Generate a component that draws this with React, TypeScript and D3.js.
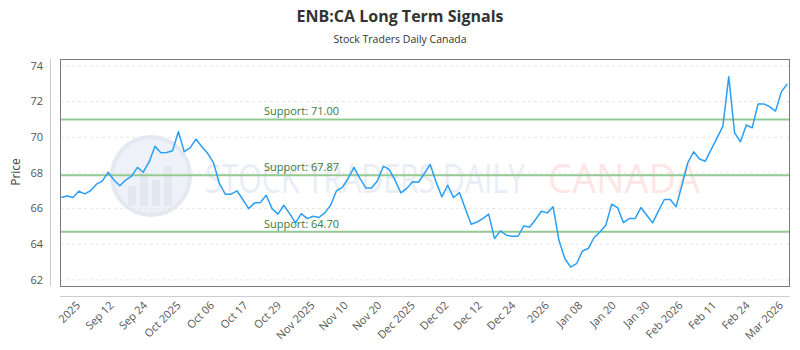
import React, { useRef, useEffect } from "react";
import * as d3 from "d3";

// daily closes
const prices = [
  66.62, 66.71, 66.62, 66.98, 66.83, 67.0, 67.37, 67.54, 68.04, 67.6,
  67.28, 67.6, 67.82, 68.31, 68.04, 68.62, 69.5, 69.13, 69.15, 69.24,
  70.31, 69.19, 69.41, 69.9, 69.47, 69.1, 68.57, 67.41, 66.81, 66.81,
  67.0, 66.51, 66.0, 66.32, 66.34, 66.75, 66.0, 65.69, 66.19, 65.72,
  65.2, 65.72, 65.44, 65.57, 65.5, 65.76, 66.19, 67.0, 67.19, 67.69,
  68.31, 67.69, 67.16, 67.16, 67.56, 68.38, 68.2, 67.6, 66.88, 67.13,
  67.5, 67.48, 67.97, 68.48, 67.5, 66.66, 67.31, 66.62, 66.9, 66.0,
  65.12, 65.25, 65.44, 65.69, 64.32, 64.75, 64.51, 64.45, 64.45, 65.03,
  64.97, 65.39, 65.85, 65.76, 66.1, 64.22, 63.2, 62.72, 62.91, 63.62,
  63.76, 64.38, 64.69, 65.07, 66.25, 66.06, 65.22, 65.44, 65.44, 66.06,
  65.63, 65.2, 65.87, 66.51, 66.51, 66.1, 67.31, 68.57, 69.19, 68.78,
  68.66, 69.32, 69.97, 70.63, 73.4, 70.25, 69.75, 70.69, 70.53, 71.87,
  71.87, 71.71, 71.47, 72.56, 72.99,
];

const tickLabels = [
  "2025", "Sep 12", "Sep 24", "Oct 2025", "Oct 06", "Oct 17", "Oct 29",
  "Nov 2025", "Nov 10", "Nov 20", "Dec 2025", "Dec 02", "Dec 12", "Dec 24",
  "2026", "Jan 08", "Jan 20", "Jan 30", "Feb 2026", "Feb 11", "Feb 24",
  "Mar 2026",
];

const yTicks = [62, 64, 66, 68, 70, 72, 74];
const supports = [71.0, 67.87, 64.7];

const FONT = "'Open Sans', sans-serif";

function App() {
  const svgRef = useRef<SVGSVGElement>(null);

  useEffect(() => {
    const width = 800;
    const height = 350;
    const left = 60, right = 790, top = 59, bottom = 286;

    const svg = d3.select(svgRef.current).attr("width", width).attr("height", height);
    svg.selectAll("*").remove();

    const x = d3.scaleLinear().domain([0, prices.length - 1]).range([61.3, 787.3]);
    const y = d3.scaleLinear().domain([61.66, 74.39]).range([bottom, top]);
    const xLab = d3.scalePoint().domain(tickLabels).range([81, 784]);

    // titles
    svg.append("text")
      .attr("x", 400).attr("y", 22)
      .attr("text-anchor", "middle")
      .style("font-family", FONT).style("font-size", "16px").style("font-weight", 700)
      .attr("fill", "#333")
      .text("ENB:CA Long Term Signals");

    svg.append("text")
      .attr("x", 400).attr("y", 43)
      .attr("text-anchor", "middle")
      .style("font-family", FONT).style("font-size", "10.5px")
      .attr("fill", "#333")
      .text("Stock Traders Daily Canada");

    // watermark
    const wm = svg.append("g");
    wm.append("circle")
      .attr("cx", 151).attr("cy", 176).attr("r", 39)
      .attr("fill", "#eef1f7").attr("stroke", "#e3e8f1").attr("stroke-width", 4);
    [[128, 186, 8, 20], [140, 172, 8, 34], [152, 180, 8, 26], [164, 166, 8, 40]].forEach(([bx, by, bw, bh]) => {
      wm.append("rect").attr("x", bx).attr("y", by).attr("width", bw).attr("height", bh).attr("fill", "#e2e7f0");
    });
    wm.append("text")
      .attr("x", 205).attr("y", 193)
      .attr("textLength", 320).attr("lengthAdjust", "spacingAndGlyphs")
      .style("font-family", FONT).style("font-size", "40px")
      .attr("fill", "#e9eef6")
      .text("STOCK TRADERS DAILY");
    wm.append("text")
      .attr("x", 548).attr("y", 193)
      .attr("textLength", 152).attr("lengthAdjust", "spacingAndGlyphs")
      .style("font-family", FONT).style("font-size", "40px")
      .attr("fill", "#fde6e6")
      .text("CANADA");

    // grid
    svg.append("g")
      .selectAll("line")
      .data(yTicks)
      .enter()
      .append("line")
      .attr("x1", left).attr("x2", right)
      .attr("y1", (d) => y(d)).attr("y2", (d) => y(d))
      .attr("stroke", "#e6e6e6").attr("stroke-dasharray", "3,3");

    // plot border
    svg.append("rect")
      .attr("x", left + 0.5).attr("y", top + 0.5)
      .attr("width", right - left - 1).attr("height", bottom - top)
      .attr("fill", "none").attr("stroke", "#7a7a7a");

    // axis lines
    svg.append("line").attr("x1", 50.5).attr("x2", 50.5).attr("y1", top).attr("y2", bottom)
      .attr("stroke", "#ccc");
    svg.append("line").attr("x1", left).attr("x2", right).attr("y1", 296.5).attr("y2", 296.5)
      .attr("stroke", "#ccc");

    // y ticks
    svg.append("g")
      .selectAll("text")
      .data(yTicks)
      .enter()
      .append("text")
      .attr("x", 43).attr("y", (d) => y(d))
      .attr("dy", "0.35em")
      .attr("text-anchor", "end")
      .style("font-family", FONT).style("font-size", "11px")
      .attr("fill", "#555")
      .text((d) => d);

    svg.append("text")
      .attr("transform", "translate(20,172) rotate(-90)")
      .attr("text-anchor", "middle")
      .style("font-family", FONT).style("font-size", "12px")
      .attr("fill", "#444")
      .text("Price");

    // x labels
    svg.append("g")
      .selectAll("text")
      .data(tickLabels)
      .enter()
      .append("text")
      .attr("transform", (d) => `translate(${xLab(d)},306) rotate(-45)`)
      .attr("text-anchor", "end")
      .style("font-family", FONT).style("font-size", "11px")
      .attr("fill", "#555")
      .text((d) => d);

    // support lines
    const sup = svg.append("g");
    sup.selectAll("line")
      .data(supports)
      .enter()
      .append("line")
      .attr("x1", left + 1).attr("x2", right - 1)
      .attr("y1", (d) => y(d)).attr("y2", (d) => y(d))
      .attr("stroke", "#93c993").attr("stroke-width", 2);
    sup.selectAll("text")
      .data(supports)
      .enter()
      .append("text")
      .attr("x", 264).attr("y", (d) => y(d) - 4)
      .style("font-family", FONT).style("font-size", "11px")
      .attr("fill", "#3b7a3b")
      .text((d) => `Support: ${d.toFixed(2)}`);

    // price line
    const line = d3.line<number>()
      .x((d, i) => x(i))
      .y((d) => y(d));

    svg.append("path")
      .datum(prices)
      .attr("fill", "none")
      .attr("stroke", "#2b9ff5")
      .attr("stroke-width", 1.5)
      .attr("stroke-linejoin", "round")
      .attr("d", line);
  }, []);

  return <svg ref={svgRef} style={{ position: "absolute", left: 0, top: 0 }}></svg>;
}

export default App;
